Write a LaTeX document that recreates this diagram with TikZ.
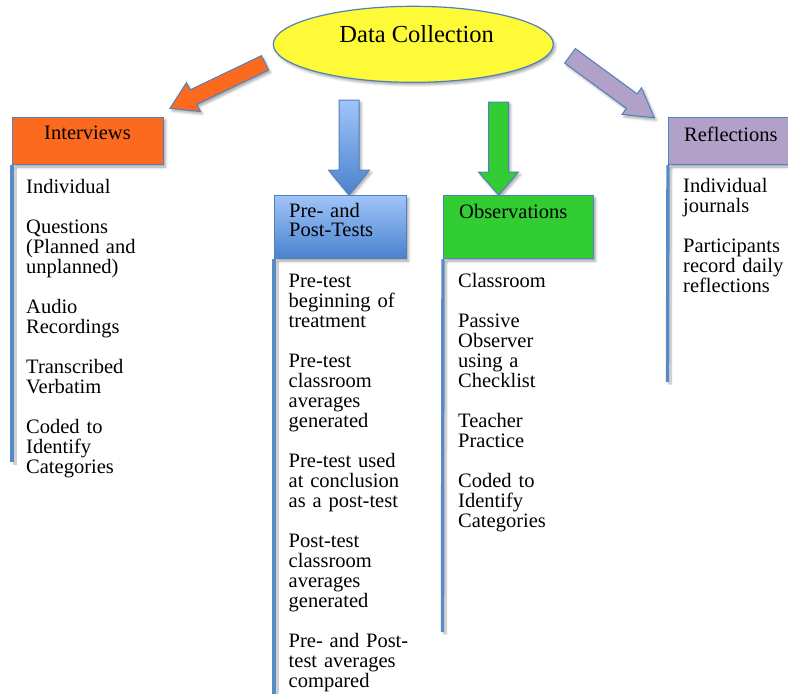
\documentclass[tikz,border=0pt]{standalone}
\usepackage{fontspec}
\setmainfont{Liberation Serif}
\usetikzlibrary{shadows.blur,shapes.geometric}

\definecolor{edgeblue}{RGB}{79,129,189}
\definecolor{lineblue}{RGB}{88,138,200}
\definecolor{ovalyellow}{RGB}{255,250,55}
\definecolor{intorange}{RGB}{252,106,32}
\definecolor{testtop}{RGB}{160,196,248}
\definecolor{testbottom}{RGB}{74,130,206}
\definecolor{obsgreen}{RGB}{50,205,50}
\definecolor{refpurple}{RGB}{177,160,199}

\tikzset{
  softshadow/.style={blur shadow={shadow xshift=2pt, shadow yshift=-2.5pt,
      shadow blur radius=2.5pt, shadow opacity=35}},
  hdrbox/.style={draw=edgeblue, line width=1.2pt, rectangle, inner sep=0pt,
      anchor=north west, softshadow},
  hdrtext/.style={font=\fontsize{20.5}{19}\selectfont, inner sep=0pt, align=left},
  itemtext/.style={font=\fontsize{20.5}{20}\selectfont, inner sep=0pt,
      text width=160pt, align=left, anchor=base west},
  colline/.style={draw=lineblue, line width=3.4pt,
      preaction={draw=black, opacity=0.18, line width=4pt,
        transform canvas={shift={(2.5pt,-2.5pt)}}}},
  blockarrow/.style={draw=edgeblue, line width=1pt, line join=miter, softshadow},
}

\begin{document}
\begin{tikzpicture}[x=1pt, y=-1pt]
\useasboundingbox (0,0) rectangle (788,694);
\clip (0,0) rectangle (788,694);

% central oval
\node[ellipse, draw=edgeblue, line width=1.2pt, fill=ovalyellow,
      minimum width=280pt, minimum height=76pt, inner sep=0pt, softshadow]
      (hub) at (413.3,44.3) {};
\node[font=\fontsize{24.5}{24}\selectfont, inner sep=0pt, anchor=base]
      (hubtext) at (416.7,42.3) {Data Collection};

% block arrows from the oval to the four methods
\path[blockarrow, fill=intorange]
  (268.5,70.0) -- (196.9,104.3) -- (200.4,111.5) -- (170,108.3)
  -- (186.5,82.6) -- (190.0,89.9) -- (261.5,55.6) -- cycle;
\path[blockarrow, top color=testtop, bottom color=testbottom]
  (339,100) -- (359,100) -- (359,170) -- (369.5,170) -- (349,195)
  -- (328.5,170) -- (339,170) -- cycle;
\path[blockarrow, fill=obsgreen]
  (488.5,102) -- (508.5,102) -- (508.5,172) -- (518.5,172) -- (498.5,195)
  -- (478.5,172) -- (488.5,172) -- cycle;
\path[blockarrow, fill=refpurple]
  (564.7,63.1) -- (626.4,108.4) -- (622.0,114.4) -- (654.3,117.7)
  -- (641.5,87.8) -- (637.1,93.9) -- (575.3,48.6) -- cycle;

% column end points
\coordinate (intend) at (12,462);
\coordinate (preend) at (274,700);
\coordinate (obsend) at (442.5,632);
\coordinate (refend) at (667.5,382);

% headers
\node[hdrbox, fill=intorange, minimum width=151pt, minimum height=47pt]
      (intbox) at (12,117) {};
\node[hdrbox, top color=testtop, bottom color=testbottom,
      minimum width=132pt, minimum height=63pt] (prebox) at (274,195) {};
\node[hdrbox, fill=obsgreen, minimum width=150pt, minimum height=63pt]
      (obsbox) at (443,195) {};
\node[hdrbox, fill=refpurple, minimum width=140pt, minimum height=47pt]
      (refbox) at (668,117) {};

% column rules
\draw[colline] (intbox.south west) -- (intend);
\draw[colline] (prebox.south west) -- (preend);
\draw[colline] (obsbox.south west) -- (obsend);
\draw[colline] (refbox.south west) -- (refend);

% header titles
\node[hdrtext, anchor=base] (inttitle) at (87.5,139) {Interviews};
\node[hdrtext, text width=110pt, anchor=base west] (pretitle) at (289,217)
      {Pre- and\\Post-Tests};
\node[hdrtext, anchor=base west] (obstitle) at (459,218) {Observations};
\node[hdrtext, anchor=base west] (reftitle) at (684,141) {Reflections};

% column contents
\node[itemtext] (intitems) at (26,193) {Individual\\[20pt]
  Questions\\(Planned and\\unplanned)\\[20pt]
  Audio\\Recordings\\[20pt]
  Transcribed\\Verbatim\\[20pt]
  Coded to\\Identify\\Categories};
\node[itemtext] (preitems) at (288.5,287) {Pre-test\\beginning of\\treatment\\[20pt]
  Pre-test\\classroom\\averages\\generated\\[20pt]
  Pre-test used\\at conclusion\\as a post-test\\[20pt]
  Post-test\\classroom\\averages\\generated\\[20pt]
  Pre- and Post-\\test averages\\compared};
\node[itemtext] (obsitems) at (458,287) {Classroom\\[20pt]
  Passive\\Observer\\using a\\Checklist\\[20pt]
  Teacher\\Practice\\[20pt]
  Coded to\\Identify\\Categories};
\node[itemtext] (refitems) at (683,192) {Individual\\journals\\[20pt]
  Participants\\record daily\\reflections};
\end{tikzpicture}
\end{document}
